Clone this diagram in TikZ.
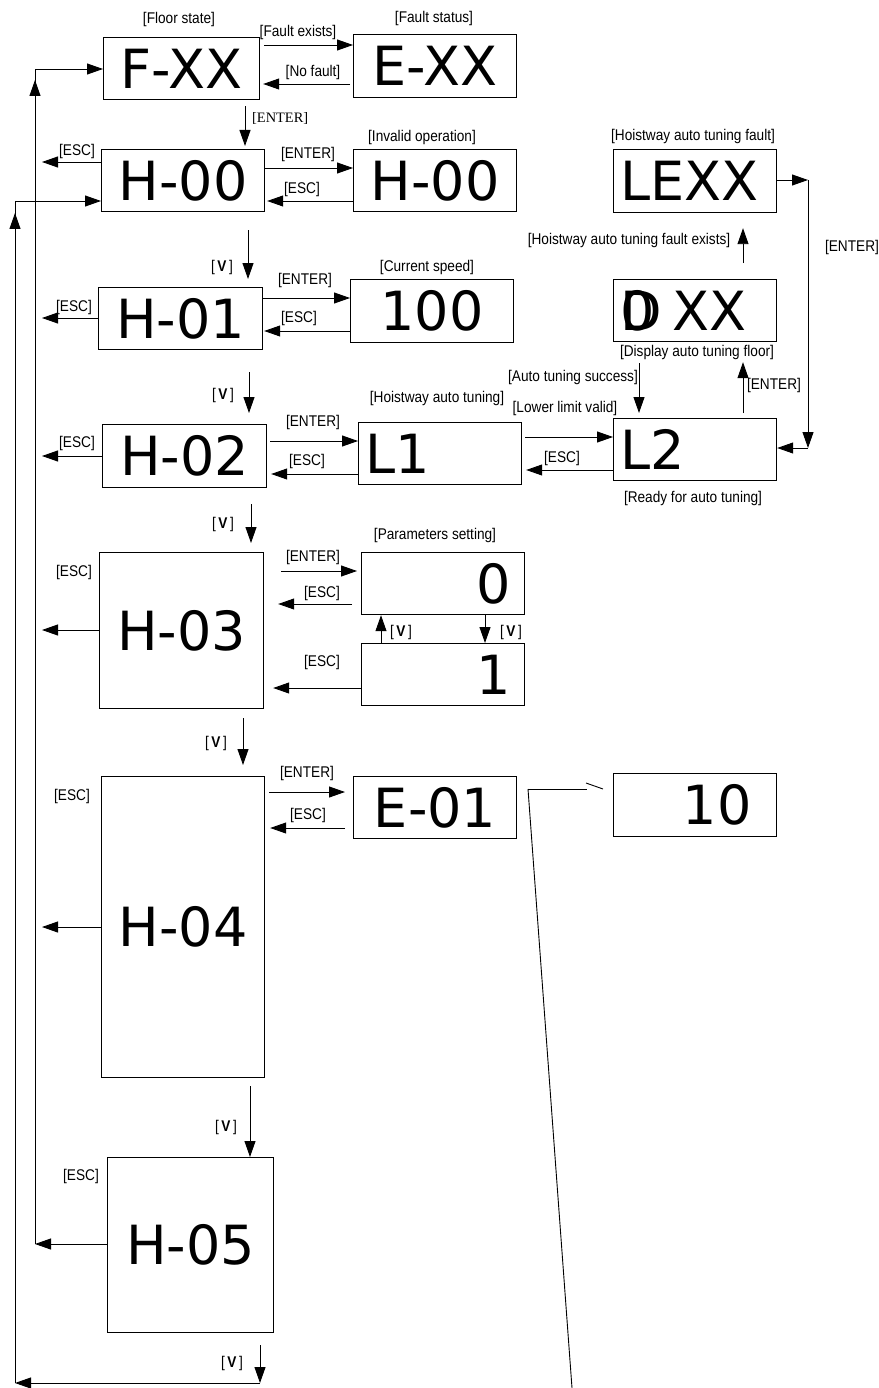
\documentclass[tikz,border=0pt]{standalone}
\usepackage{fontspec}
\usetikzlibrary{arrows.meta}
\newfontfamily\bigf{DejaVu Sans}
\newfontfamily\labf[FakeStretch=0.88]{Liberation Sans}
\newfontfamily\serf{Liberation Serif}
\newcommand{\vkey}{[\,\textbf{V}\,]}
\begin{document}
\begin{tikzpicture}[x=1pt,y=-1pt,
  box/.style={draw, line width=1.2pt, inner sep=0pt, anchor=north west, font=\bigf\fontsize{54}{60}\selectfont},
  lft/.style={inner xsep=7pt, text width=#1, align=left},
  rgt/.style={inner xsep=14pt, text width=#1, align=right},
  lbl/.style={inner sep=0pt, font=\labf\fontsize{15.5}{17}\selectfont},
  serlbl/.style={inner sep=0pt, anchor=west, font=\serf\fontsize{14.4}{16}\selectfont},
  arr/.style={line width=0.9pt, -{Triangle[length=16pt,width=11pt]}},
  ln/.style={line width=0.9pt}]
\useasboundingbox (0,0) rectangle (878,1388);

% loop coordinates
\coordinate (iT) at (35,69);
\coordinate (iB) at (35,1244);
\coordinate (oT) at (15,201);
\coordinate (oB) at (15,1383);
\coordinate (cB) at (260,1383);
\coordinate (rT) at (808,180);
\coordinate (rB) at (808,448);
\coordinate (wC) at (528,789);
\coordinate (wB) at (572,1388);

% boxes
\node[box, minimum width=156pt, minimum height=62pt] (fxx) at (103,37) {F-XX};
\node[box, minimum width=163pt, minimum height=63pt] (exx) at (353,34) {E-XX};
\node[box, minimum width=163pt, minimum height=62pt] (h00a) at (101,149) {H-00};
\node[box, minimum width=163pt, minimum height=62pt] (h00b) at (353,149) {H-00};
\node[box, minimum width=164pt, minimum height=62pt] (h01) at (98,287) {H-01};
\node[box, minimum width=163pt, minimum height=63pt] (s100) at (350,279) {100};
\node[box, minimum width=164pt, minimum height=63pt] (h02) at (102,424) {H-02};
\node[box, lft=149pt, minimum height=62pt] (l1) at (358,422) {L1};
\node[box, lft=149pt, minimum height=62pt] (l2) at (613,418) {L2};
\node[box, lft=149pt, minimum height=62pt] (dxx) at (613,279) {\makebox[0pt][l]{0}D\hspace{0.2em}XX};
\node[box, lft=149pt, minimum height=63pt] (lexx) at (613,149) {LEXX};
\node[box, minimum width=164pt, minimum height=156pt] (h03) at (99,552) {H-03};
\node[box, rgt=135pt, minimum height=62pt] (p0) at (361,552) {0};
\node[box, rgt=135pt, minimum height=62pt] (p1) at (361,643) {1};
\node[box, minimum width=163pt, minimum height=301pt] (h04) at (101,776) {H-04};
\node[box, minimum width=163pt, minimum height=62pt] (e01) at (353,776) {E-01};
\node[box, inner xsep=25pt, text width=113pt, align=right, minimum height=63pt] (b10) at (613,773) {10};
\node[box, minimum width=166pt, minimum height=175pt] (h05) at (107,1157) {H-05};

% titles
\node[lbl] (tfs) at (179,19) {[Floor state]};
\node[lbl] (tft) at (434,18) {[Fault status]};
\node[lbl] (tio) at (422,137) {[Invalid operation]};
\node[lbl] (tcs) at (427,267) {[Current speed]};
\node[lbl] (tha) at (437,398) {[Hoistway auto tuning]};
\node[lbl] (trd) at (693,498) {[Ready for auto tuning]};
\node[lbl] (tdf) at (697,352) {[Display auto tuning floor]};
\node[lbl] (thf) at (693,136) {[Hoistway auto tuning fault]};
\node[lbl] (tps) at (435,535) {[Parameters setting]};

% loops
\draw[ln] (iB) -- (iT);
\draw[arr] (iT) -- (iT -| fxx.west);
\draw[arr] (35,110) -- (35,80);
\draw[ln] (oB) -- (oT);
\draw[arr] (oT) -- (oT -| h00a.west);
\draw[arr] (15,250) -- (15,213);

% F-XX / E-XX
\draw[arr, shorten <=4pt] (fxx.east |- 0,45) -- (exx.west |- 0,45);
\node[lbl] (lfe) at (298,32) {[Fault exists]};
\draw[arr, shorten <=3pt, shorten >=3pt] (exx.west |- 0,84) -- (fxx.east |- 0,84);
\node[lbl] (lnf) at (313,72) {[No fault]};
\draw[arr, shorten <=6pt, shorten >=3pt] (fxx.south -| 245,0) -- (h00a.north -| 245,0);
\node[serlbl] (len0) at (252,118) {[ENTER]};

% H-00
\draw[arr, shorten >=7pt] (h00a.west |- 0,162) -- (iT |- 0,162);
\node[lbl] (le0) at (77,151) {[ESC]};
\draw[arr] (h00a.east |- 0,168) -- (h00b.west |- 0,168);
\node[lbl] (len1) at (308,154) {[ENTER]};
\draw[arr, shorten >=2pt] (h00b.west |- 0,201) -- (h00a.east |- 0,201);
\node[lbl] (le1) at (302,189) {[ESC]};
\draw[arr, shorten <=18pt, shorten >=8pt] (h00a.south -| 248,0) -- (h01.north -| 248,0);
\node[lbl] (lv1) at (222,267) {\vkey};

% H-01
\draw[arr, shorten >=7pt] (h01.west |- 0,318) -- (iT |- 0,318);
\node[lbl] (le2) at (74,307) {[ESC]};
\draw[arr] (h01.east |- 0,298) -- (s100.west |- 0,298);
\node[lbl] (len2) at (305,280) {[ENTER]};
\draw[arr, shorten >=1pt] (s100.west |- 0,331) -- (h01.east |- 0,331);
\node[lbl] (le3) at (299,318) {[ESC]};
\draw[arr, shorten <=22pt, shorten >=11pt] (h01.south -| 249,0) -- (h02.north -| 249,0);
\node[lbl] (lv2) at (223,395) {\vkey};

% H-02 / L1 / L2
\draw[arr, shorten >=7pt] (h02.west |- 0,456) -- (iT |- 0,456);
\node[lbl] (le4) at (77,443) {[ESC]};
\draw[arr, shorten <=3pt] (h02.east |- 0,441) -- (l1.west |- 0,441);
\node[lbl] (len3) at (313,422) {[ENTER]};
\draw[arr, shorten >=4pt] (l1.west |- 0,474) -- (h02.east |- 0,474);
\node[lbl] (le5) at (307,461) {[ESC]};
\draw[arr, shorten <=3pt] (l1.east |- 0,437) -- (l2.west |- 0,437);
\node[lbl] (lll) at (565,408) {[Lower limit valid]};
\draw[arr, shorten >=4pt] (l2.west |- 0,470) -- (l1.east |- 0,470);
\node[lbl] (le6) at (562,458) {[ESC]};
\draw[arr, shorten <=21pt, shorten >=5pt] (dxx.south -| 639,0) -- (l2.north -| 639,0);
\node[lbl] (lats) at (573,377) {[Auto tuning success]};
\draw[arr, shorten <=5pt, shorten >=20pt] (l2.north -| 743,0) -- (dxx.south -| 743,0);
\node[lbl] (len4) at (774,385) {[ENTER]};
\draw[arr, shorten <=16pt, shorten >=15pt] (dxx.north -| 743,0) -- (lexx.south -| 743,0);
\node[lbl] (lhfe) at (629,240) {[Hoistway auto tuning fault exists]};
\draw[arr] (lexx.east |- rT) -- (rT);
\draw[arr] (rT) -- (rB);
\draw[arr] (rB) -- (rB -| l2.east);
\node[lbl] (len5) at (852,247) {[ENTER]};

% H-03
\draw[arr, shorten <=16pt, shorten >=9pt] (h02.south -| 251,0) -- (h03.north -| 251,0);
\node[lbl] (lv3) at (223,524) {\vkey};
\draw[arr, shorten >=7pt] (h03.west |- 0,630) -- (iT |- 0,630);
\node[lbl] (le7) at (74,572) {[ESC]};
\draw[arr, shorten <=17pt, shorten >=4pt] (h03.east |- 0,571) -- (p0.west |- 0,571);
\node[lbl] (len6) at (313,557) {[ENTER]};
\draw[arr, shorten <=9pt, shorten >=14pt] (p0.west |- 0,604) -- (h03.east |- 0,604);
\node[lbl] (le8) at (322,593) {[ESC]};
\draw[arr, shorten >=9pt] (p1.west |- 0,688) -- (h03.east |- 0,688);
\node[lbl] (le9) at (322,662) {[ESC]};
\draw[arr] (p1.north -| 381,0) -- (p0.south -| 381,0);
\node[lbl] (lv4) at (401,632) {\vkey};
\draw[arr] (p0.south -| 485,0) -- (p1.north -| 485,0);
\node[lbl] (lv5) at (511,632) {\vkey};

% H-04
\draw[arr, shorten <=9pt, shorten >=11pt] (h03.south -| 243,0) -- (h04.north -| 243,0);
\node[lbl] (lv6) at (216,743) {\vkey};
\draw[arr, shorten >=7pt] (h04.west |- 0,927) -- (iT |- 0,927);
\node[lbl] (le10) at (72,796) {[ESC]};
\draw[arr, shorten <=4pt, shorten >=8pt] (h04.east |- 0,792) -- (e01.west |- 0,792);
\node[lbl] (len7) at (307,773) {[ENTER]};
\draw[arr, shorten <=8pt, shorten >=5pt] (e01.west |- 0,828) -- (h04.east |- 0,828);
\node[lbl] (le11) at (308,815) {[ESC]};
\draw[ln] (wB) -- (wC);
\draw[ln, shorten >=26pt] (wC) -- (wC -| b10.west);
\draw[ln] (586,783) -- (603,789);

% H-05
\draw[arr, shorten <=8pt] (h04.south -| 250,0) -- (h05.north -| 250,0);
\node[lbl] (lv7) at (226,1127) {\vkey};
\draw[arr] (h05.west |- iB) -- (iB);
\node[lbl] (le12) at (81,1176) {[ESC]};
\draw[arr, shorten <=12pt] (h05.south -| cB) -- (cB);
\draw[arr] (cB) -- (oB);
\node[lbl] (lv8) at (232,1363) {\vkey};
\end{tikzpicture}
\end{document}
